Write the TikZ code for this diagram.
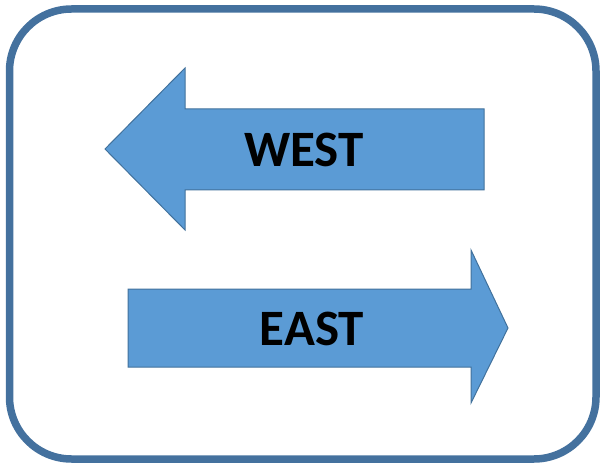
\documentclass[tikz,border=0pt]{standalone}
\usepackage{fontspec}
\setmainfont{Carlito}
\definecolor{arrowfill}{HTML}{5B9BD5}
\definecolor{arrowline}{HTML}{41719C}
\definecolor{frameline}{HTML}{44719E}
\begin{document}
\begin{tikzpicture}[x=1pt,y=-1pt,
  arrowshape/.style={fill=arrowfill,draw=arrowline,line width=1pt,line join=miter},
  label/.style={font=\fontsize{51}{51}\selectfont\bfseries,text=black,inner sep=0pt,anchor=center}]
\useasboundingbox (0,0) rectangle (602,465);
\draw[frameline,line width=7.5pt,rounded corners=62pt] (9.5,9) rectangle (596,459);
% West arrow
\draw[arrowshape] (105,149) -- (185,68) -- (185,109) -- (484,109) -- (484,190) -- (185,190) -- (185,230) -- cycle;
% East arrow
\draw[arrowshape] (128,289) -- (471,289) -- (471,250) -- (508,328) -- (471,403) -- (471,367) -- (128,367) -- cycle;
\node[label] (west) at (304,150) {WEST};
\node[label] (east) at (312,329) {EAST};
\end{tikzpicture}
\end{document}
